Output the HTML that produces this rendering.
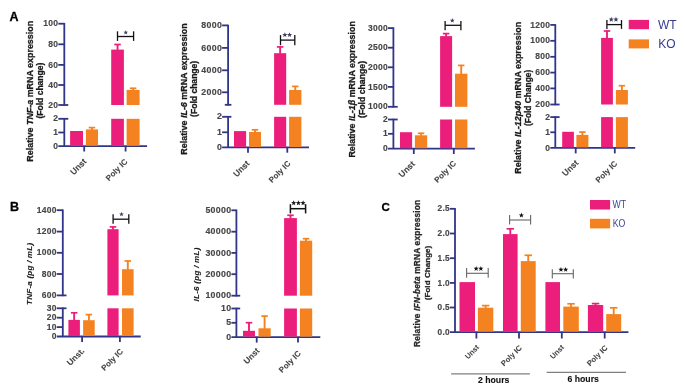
<!DOCTYPE html>
<html><head><meta charset="utf-8"><style>
html,body{margin:0;padding:0;background:#fff;}
svg{display:block;font-family:"Liberation Sans", sans-serif;will-change:transform;}
</style></head><body>
<svg width="685" height="391" viewBox="0 0 685 391">
<rect width="685" height="391" fill="#fff"/>
<text x="9.40" y="21.10" font-size="12.5" text-anchor="start" font-weight="bold" fill="#000" stroke="#000" stroke-width="0.3">A</text>
<text x="10.00" y="211.30" font-size="12.5" text-anchor="start" font-weight="bold" fill="#000" stroke="#000" stroke-width="0.3">B</text>
<text x="381.50" y="211.10" font-size="11.5" text-anchor="start" font-weight="bold" fill="#000" stroke="#000" stroke-width="0.3">C</text>
<line x1="64.30" y1="22.95" x2="64.30" y2="105.75" stroke="#303588" stroke-width="1.8"/>
<line x1="58.30" y1="23.70" x2="64.30" y2="23.70" stroke="#303588" stroke-width="1.8"/>
<text x="58.30" y="26.30" font-size="8.5" text-anchor="end" font-weight="bold" fill="#474747" stroke="#474747" stroke-width="0.15" letter-spacing="0.3">100</text>
<line x1="58.30" y1="44.30" x2="64.30" y2="44.30" stroke="#303588" stroke-width="1.8"/>
<text x="58.30" y="46.90" font-size="8.5" text-anchor="end" font-weight="bold" fill="#474747" stroke="#474747" stroke-width="0.15" letter-spacing="0.3">80</text>
<line x1="58.30" y1="64.90" x2="64.30" y2="64.90" stroke="#303588" stroke-width="1.8"/>
<text x="58.30" y="67.50" font-size="8.5" text-anchor="end" font-weight="bold" fill="#474747" stroke="#474747" stroke-width="0.15" letter-spacing="0.3">60</text>
<line x1="58.30" y1="85.00" x2="64.30" y2="85.00" stroke="#303588" stroke-width="1.8"/>
<text x="58.30" y="87.60" font-size="8.5" text-anchor="end" font-weight="bold" fill="#474747" stroke="#474747" stroke-width="0.15" letter-spacing="0.3">40</text>
<line x1="58.30" y1="105.00" x2="68.30" y2="105.00" stroke="#303588" stroke-width="1.8"/>
<text x="58.30" y="107.60" font-size="8.5" text-anchor="end" font-weight="bold" fill="#474747" stroke="#474747" stroke-width="0.15" letter-spacing="0.3">20</text>
<line x1="64.30" y1="118.05" x2="64.30" y2="146.20" stroke="#303588" stroke-width="1.8"/>
<line x1="58.30" y1="118.80" x2="68.30" y2="118.80" stroke="#303588" stroke-width="1.8"/>
<text x="58.30" y="121.40" font-size="8.5" text-anchor="end" font-weight="bold" fill="#474747" stroke="#474747" stroke-width="0.15" letter-spacing="0.3">2</text>
<line x1="58.30" y1="132.50" x2="64.30" y2="132.50" stroke="#303588" stroke-width="1.8"/>
<text x="58.30" y="135.10" font-size="8.5" text-anchor="end" font-weight="bold" fill="#474747" stroke="#474747" stroke-width="0.15" letter-spacing="0.3">1</text>
<line x1="58.30" y1="146.20" x2="147.10" y2="146.20" stroke="#303588" stroke-width="1.8"/>
<text x="58.30" y="148.80" font-size="8.5" text-anchor="end" font-weight="bold" fill="#474747" stroke="#474747" stroke-width="0.15" letter-spacing="0.3">0</text>
<line x1="84.20" y1="146.20" x2="84.20" y2="151.50" stroke="#303588" stroke-width="1.8"/>
<line x1="125.60" y1="146.20" x2="125.60" y2="151.50" stroke="#303588" stroke-width="1.8"/>
<rect x="70.10" y="131.00" width="12.90" height="14.70" fill="#EC1E7C"/>
<rect x="85.90" y="129.40" width="12.10" height="16.30" fill="#F48220"/>
<line x1="91.95" y1="129.90" x2="91.95" y2="127.10" stroke="#F48220" stroke-width="1.9"/>
<line x1="88.70" y1="127.60" x2="95.20" y2="127.60" stroke="#F48220" stroke-width="1.7"/>
<rect x="111.20" y="118.80" width="12.70" height="26.90" fill="#EC1E7C"/>
<rect x="111.20" y="49.60" width="12.70" height="55.40" fill="#EC1E7C"/>
<line x1="117.55" y1="50.10" x2="117.55" y2="44.00" stroke="#EC1E7C" stroke-width="1.9"/>
<line x1="114.30" y1="44.50" x2="120.80" y2="44.50" stroke="#EC1E7C" stroke-width="1.7"/>
<rect x="126.60" y="118.80" width="13.00" height="26.90" fill="#F48220"/>
<rect x="126.60" y="89.90" width="13.00" height="15.10" fill="#F48220"/>
<line x1="133.10" y1="90.40" x2="133.10" y2="87.80" stroke="#F48220" stroke-width="1.9"/>
<line x1="129.85" y1="88.30" x2="136.35" y2="88.30" stroke="#F48220" stroke-width="1.7"/>
<line x1="117.50" y1="31.30" x2="117.50" y2="40.90" stroke="#111" stroke-width="1.3"/>
<line x1="133.60" y1="31.30" x2="133.60" y2="40.90" stroke="#111" stroke-width="1.3"/>
<line x1="117.50" y1="36.50" x2="133.60" y2="36.50" stroke="#111" stroke-width="1.3"/>
<polygon points="125.75,30.00 126.37,31.65 128.13,31.73 126.75,32.82 127.22,34.52 125.75,33.55 124.28,34.52 124.75,32.82 123.37,31.73 125.13,31.65" fill="#3d3d63"/>
<text transform="translate(87.10,162.10) rotate(-45)" font-size="8.5" text-anchor="end" font-weight="bold" fill="#444444" stroke="#444444" stroke-width="0.1">Unst</text>
<text transform="translate(128.10,162.20) rotate(-45)" font-size="8.0" text-anchor="end" font-weight="bold" fill="#444444" stroke="#444444" stroke-width="0.1">Poly IC</text>
<text transform="translate(33.20,91.30) rotate(-90)" font-size="8.9" text-anchor="middle" font-weight="bold" fill="#1a1a1a" stroke="#1a1a1a" stroke-width="0.3" textLength="140.8" lengthAdjust="spacingAndGlyphs">Relative <tspan font-style="italic">TNF-a</tspan> mRNA expression</text>
<text transform="translate(42.60,90.60) rotate(-90)" font-size="8.6" text-anchor="middle" font-weight="bold" fill="#1a1a1a" stroke="#1a1a1a" stroke-width="0.3" textLength="56.0" lengthAdjust="spacingAndGlyphs">(Fold change)</text>
<line x1="228.10" y1="24.65" x2="228.10" y2="105.55" stroke="#303588" stroke-width="1.8"/>
<line x1="222.10" y1="25.40" x2="228.10" y2="25.40" stroke="#303588" stroke-width="1.8"/>
<text x="222.10" y="28.00" font-size="8.8" text-anchor="end" font-weight="bold" fill="#474747" stroke="#474747" stroke-width="0.15" letter-spacing="0.3">8000</text>
<line x1="222.10" y1="47.90" x2="228.10" y2="47.90" stroke="#303588" stroke-width="1.8"/>
<text x="222.10" y="50.50" font-size="8.8" text-anchor="end" font-weight="bold" fill="#474747" stroke="#474747" stroke-width="0.15" letter-spacing="0.3">6000</text>
<line x1="222.10" y1="70.30" x2="228.10" y2="70.30" stroke="#303588" stroke-width="1.8"/>
<text x="222.10" y="72.90" font-size="8.8" text-anchor="end" font-weight="bold" fill="#474747" stroke="#474747" stroke-width="0.15" letter-spacing="0.3">4000</text>
<line x1="222.10" y1="92.30" x2="228.10" y2="92.30" stroke="#303588" stroke-width="1.8"/>
<text x="222.10" y="94.90" font-size="8.8" text-anchor="end" font-weight="bold" fill="#474747" stroke="#474747" stroke-width="0.15" letter-spacing="0.3">2000</text>
<line x1="224.80" y1="104.80" x2="231.40" y2="104.80" stroke="#303588" stroke-width="1.8"/>
<line x1="228.10" y1="116.05" x2="228.10" y2="147.40" stroke="#303588" stroke-width="1.8"/>
<line x1="222.10" y1="116.80" x2="231.40" y2="116.80" stroke="#303588" stroke-width="1.8"/>
<text x="222.10" y="119.40" font-size="8.8" text-anchor="end" font-weight="bold" fill="#474747" stroke="#474747" stroke-width="0.15" letter-spacing="0.3">2</text>
<line x1="222.10" y1="132.30" x2="228.10" y2="132.30" stroke="#303588" stroke-width="1.8"/>
<text x="222.10" y="134.90" font-size="8.8" text-anchor="end" font-weight="bold" fill="#474747" stroke="#474747" stroke-width="0.15" letter-spacing="0.3">1</text>
<line x1="222.10" y1="147.40" x2="309.00" y2="147.40" stroke="#303588" stroke-width="1.8"/>
<text x="222.10" y="150.00" font-size="8.8" text-anchor="end" font-weight="bold" fill="#474747" stroke="#474747" stroke-width="0.15" letter-spacing="0.3">0</text>
<line x1="248.00" y1="147.40" x2="248.00" y2="152.70" stroke="#303588" stroke-width="1.8"/>
<line x1="287.30" y1="147.40" x2="287.30" y2="152.70" stroke="#303588" stroke-width="1.8"/>
<rect x="234.00" y="131.10" width="12.10" height="15.80" fill="#EC1E7C"/>
<rect x="249.00" y="132.00" width="12.00" height="14.90" fill="#F48220"/>
<line x1="255.00" y1="132.50" x2="255.00" y2="129.30" stroke="#F48220" stroke-width="1.9"/>
<line x1="251.75" y1="129.80" x2="258.25" y2="129.80" stroke="#F48220" stroke-width="1.7"/>
<rect x="274.10" y="116.80" width="12.10" height="30.10" fill="#EC1E7C"/>
<rect x="274.10" y="53.20" width="12.10" height="51.60" fill="#EC1E7C"/>
<line x1="280.15" y1="53.70" x2="280.15" y2="46.40" stroke="#EC1E7C" stroke-width="1.9"/>
<line x1="276.90" y1="46.90" x2="283.40" y2="46.90" stroke="#EC1E7C" stroke-width="1.7"/>
<rect x="289.10" y="116.80" width="12.30" height="30.10" fill="#F48220"/>
<rect x="289.10" y="90.00" width="12.30" height="14.80" fill="#F48220"/>
<line x1="295.25" y1="90.50" x2="295.25" y2="85.90" stroke="#F48220" stroke-width="1.9"/>
<line x1="292.00" y1="86.40" x2="298.50" y2="86.40" stroke="#F48220" stroke-width="1.7"/>
<line x1="280.50" y1="35.10" x2="280.50" y2="45.20" stroke="#111" stroke-width="1.3"/>
<line x1="294.80" y1="35.10" x2="294.80" y2="45.20" stroke="#111" stroke-width="1.3"/>
<line x1="280.50" y1="40.10" x2="294.80" y2="40.10" stroke="#111" stroke-width="1.3"/>
<polygon points="284.85,32.15 285.53,33.97 287.47,34.05 285.95,35.26 286.47,37.12 284.85,36.05 283.23,37.12 283.75,35.26 282.23,34.05 284.17,33.97" fill="#3d3d63"/>
<polygon points="289.55,32.15 290.23,33.97 292.17,34.05 290.65,35.26 291.17,37.12 289.55,36.05 287.93,37.12 288.45,35.26 286.93,34.05 288.87,33.97" fill="#3d3d63"/>
<text transform="translate(250.10,164.10) rotate(-45)" font-size="8.5" text-anchor="end" font-weight="bold" fill="#444444" stroke="#444444" stroke-width="0.1">Unst</text>
<text transform="translate(291.20,164.00) rotate(-45)" font-size="8.0" text-anchor="end" font-weight="bold" fill="#444444" stroke="#444444" stroke-width="0.1">Poly IC</text>
<text transform="translate(187.40,89.00) rotate(-90)" font-size="8.9" text-anchor="middle" font-weight="bold" fill="#1a1a1a" stroke="#1a1a1a" stroke-width="0.3" textLength="131.4" lengthAdjust="spacingAndGlyphs">Relative <tspan font-style="italic">IL-6</tspan> mRNA expression</text>
<text transform="translate(196.60,88.85) rotate(-90)" font-size="8.6" text-anchor="middle" font-weight="bold" fill="#1a1a1a" stroke="#1a1a1a" stroke-width="0.3" textLength="56.1" lengthAdjust="spacingAndGlyphs">(Fold change)</text>
<line x1="393.40" y1="27.35" x2="393.40" y2="107.55" stroke="#303588" stroke-width="1.8"/>
<line x1="388.00" y1="28.10" x2="393.40" y2="28.10" stroke="#303588" stroke-width="1.8"/>
<text x="388.00" y="30.70" font-size="8.5" text-anchor="end" font-weight="bold" fill="#474747" stroke="#474747" stroke-width="0.15" letter-spacing="0.3">3000</text>
<line x1="388.00" y1="47.70" x2="393.40" y2="47.70" stroke="#303588" stroke-width="1.8"/>
<text x="388.00" y="50.30" font-size="8.5" text-anchor="end" font-weight="bold" fill="#474747" stroke="#474747" stroke-width="0.15" letter-spacing="0.3">2500</text>
<line x1="388.00" y1="67.30" x2="393.40" y2="67.30" stroke="#303588" stroke-width="1.8"/>
<text x="388.00" y="69.90" font-size="8.5" text-anchor="end" font-weight="bold" fill="#474747" stroke="#474747" stroke-width="0.15" letter-spacing="0.3">2000</text>
<line x1="388.00" y1="86.90" x2="393.40" y2="86.90" stroke="#303588" stroke-width="1.8"/>
<text x="388.00" y="89.50" font-size="8.5" text-anchor="end" font-weight="bold" fill="#474747" stroke="#474747" stroke-width="0.15" letter-spacing="0.3">1500</text>
<line x1="388.00" y1="106.80" x2="397.70" y2="106.80" stroke="#303588" stroke-width="1.8"/>
<text x="388.00" y="109.40" font-size="8.5" text-anchor="end" font-weight="bold" fill="#474747" stroke="#474747" stroke-width="0.15" letter-spacing="0.3">1000</text>
<line x1="393.40" y1="118.75" x2="393.40" y2="148.70" stroke="#303588" stroke-width="1.8"/>
<line x1="388.00" y1="119.50" x2="397.70" y2="119.50" stroke="#303588" stroke-width="1.8"/>
<text x="388.00" y="122.10" font-size="8.5" text-anchor="end" font-weight="bold" fill="#474747" stroke="#474747" stroke-width="0.15" letter-spacing="0.3">2</text>
<line x1="388.00" y1="133.80" x2="393.40" y2="133.80" stroke="#303588" stroke-width="1.8"/>
<text x="388.00" y="136.40" font-size="8.5" text-anchor="end" font-weight="bold" fill="#474747" stroke="#474747" stroke-width="0.15" letter-spacing="0.3">1</text>
<line x1="388.00" y1="148.70" x2="474.90" y2="148.70" stroke="#303588" stroke-width="1.8"/>
<text x="388.00" y="151.30" font-size="8.5" text-anchor="end" font-weight="bold" fill="#474747" stroke="#474747" stroke-width="0.15" letter-spacing="0.3">0</text>
<line x1="413.80" y1="148.70" x2="413.80" y2="154.00" stroke="#303588" stroke-width="1.8"/>
<line x1="453.80" y1="148.70" x2="453.80" y2="154.00" stroke="#303588" stroke-width="1.8"/>
<rect x="400.00" y="132.20" width="12.10" height="16.00" fill="#EC1E7C"/>
<rect x="414.90" y="135.30" width="12.30" height="12.90" fill="#F48220"/>
<line x1="421.05" y1="135.80" x2="421.05" y2="132.80" stroke="#F48220" stroke-width="1.9"/>
<line x1="417.80" y1="133.30" x2="424.30" y2="133.30" stroke="#F48220" stroke-width="1.7"/>
<rect x="440.10" y="119.50" width="12.00" height="28.70" fill="#EC1E7C"/>
<rect x="440.10" y="36.10" width="12.00" height="70.70" fill="#EC1E7C"/>
<line x1="446.10" y1="36.60" x2="446.10" y2="33.10" stroke="#EC1E7C" stroke-width="1.9"/>
<line x1="442.85" y1="33.60" x2="449.35" y2="33.60" stroke="#EC1E7C" stroke-width="1.7"/>
<rect x="455.00" y="119.50" width="12.40" height="28.70" fill="#F48220"/>
<rect x="455.00" y="73.70" width="12.40" height="33.10" fill="#F48220"/>
<line x1="461.20" y1="74.20" x2="461.20" y2="64.90" stroke="#F48220" stroke-width="1.9"/>
<line x1="457.95" y1="65.40" x2="464.45" y2="65.40" stroke="#F48220" stroke-width="1.7"/>
<line x1="445.10" y1="21.00" x2="445.10" y2="30.30" stroke="#111" stroke-width="1.3"/>
<line x1="460.90" y1="21.00" x2="460.90" y2="30.30" stroke="#111" stroke-width="1.3"/>
<line x1="445.10" y1="25.30" x2="460.90" y2="25.30" stroke="#111" stroke-width="1.3"/>
<polygon points="452.30,18.10 452.92,19.75 454.68,19.83 453.30,20.92 453.77,22.62 452.30,21.65 450.83,22.62 451.30,20.92 449.92,19.83 451.68,19.75" fill="#3d3d63"/>
<text transform="translate(415.40,164.60) rotate(-45)" font-size="8.5" text-anchor="end" font-weight="bold" fill="#444444" stroke="#444444" stroke-width="0.1">Unst</text>
<text transform="translate(456.70,164.00) rotate(-45)" font-size="8.0" text-anchor="end" font-weight="bold" fill="#444444" stroke="#444444" stroke-width="0.1">Poly IC</text>
<text transform="translate(355.30,89.40) rotate(-90)" font-size="8.9" text-anchor="middle" font-weight="bold" fill="#1a1a1a" stroke="#1a1a1a" stroke-width="0.3" textLength="136.4" lengthAdjust="spacingAndGlyphs">Relative <tspan font-style="italic">IL-1β</tspan> mRNA expression</text>
<text transform="translate(365.00,89.45) rotate(-90)" font-size="8.6" text-anchor="middle" font-weight="bold" fill="#1a1a1a" stroke="#1a1a1a" stroke-width="0.3" textLength="57.1" lengthAdjust="spacingAndGlyphs">(Fold change)</text>
<line x1="555.30" y1="24.15" x2="555.30" y2="105.25" stroke="#303588" stroke-width="1.8"/>
<line x1="550.30" y1="24.90" x2="555.30" y2="24.90" stroke="#303588" stroke-width="1.8"/>
<text x="550.30" y="27.50" font-size="8.5" text-anchor="end" font-weight="bold" fill="#474747" stroke="#474747" stroke-width="0.15" letter-spacing="0.3">1200</text>
<line x1="550.30" y1="40.80" x2="555.30" y2="40.80" stroke="#303588" stroke-width="1.8"/>
<text x="550.30" y="43.40" font-size="8.5" text-anchor="end" font-weight="bold" fill="#474747" stroke="#474747" stroke-width="0.15" letter-spacing="0.3">1000</text>
<line x1="550.30" y1="56.80" x2="555.30" y2="56.80" stroke="#303588" stroke-width="1.8"/>
<text x="550.30" y="59.40" font-size="8.5" text-anchor="end" font-weight="bold" fill="#474747" stroke="#474747" stroke-width="0.15" letter-spacing="0.3">800</text>
<line x1="550.30" y1="72.60" x2="555.30" y2="72.60" stroke="#303588" stroke-width="1.8"/>
<text x="550.30" y="75.20" font-size="8.5" text-anchor="end" font-weight="bold" fill="#474747" stroke="#474747" stroke-width="0.15" letter-spacing="0.3">600</text>
<line x1="550.30" y1="88.40" x2="555.30" y2="88.40" stroke="#303588" stroke-width="1.8"/>
<text x="550.30" y="91.00" font-size="8.5" text-anchor="end" font-weight="bold" fill="#474747" stroke="#474747" stroke-width="0.15" letter-spacing="0.3">400</text>
<line x1="550.30" y1="104.50" x2="559.60" y2="104.50" stroke="#303588" stroke-width="1.8"/>
<text x="550.30" y="107.10" font-size="8.5" text-anchor="end" font-weight="bold" fill="#474747" stroke="#474747" stroke-width="0.15" letter-spacing="0.3">200</text>
<line x1="555.30" y1="116.35" x2="555.30" y2="147.90" stroke="#303588" stroke-width="1.8"/>
<line x1="550.30" y1="117.10" x2="559.60" y2="117.10" stroke="#303588" stroke-width="1.8"/>
<text x="550.30" y="119.70" font-size="8.5" text-anchor="end" font-weight="bold" fill="#474747" stroke="#474747" stroke-width="0.15" letter-spacing="0.3">2</text>
<line x1="550.30" y1="132.30" x2="555.30" y2="132.30" stroke="#303588" stroke-width="1.8"/>
<text x="550.30" y="134.90" font-size="8.5" text-anchor="end" font-weight="bold" fill="#474747" stroke="#474747" stroke-width="0.15" letter-spacing="0.3">1</text>
<line x1="550.30" y1="147.90" x2="635.20" y2="147.90" stroke="#303588" stroke-width="1.8"/>
<text x="550.30" y="150.50" font-size="8.5" text-anchor="end" font-weight="bold" fill="#474747" stroke="#474747" stroke-width="0.15" letter-spacing="0.3">0</text>
<line x1="575.70" y1="147.90" x2="575.70" y2="153.40" stroke="#303588" stroke-width="1.8"/>
<line x1="614.80" y1="147.90" x2="614.80" y2="153.40" stroke="#303588" stroke-width="1.8"/>
<rect x="562.20" y="131.80" width="11.70" height="15.60" fill="#EC1E7C"/>
<rect x="576.40" y="134.90" width="12.00" height="12.50" fill="#F48220"/>
<line x1="582.40" y1="135.40" x2="582.40" y2="131.60" stroke="#F48220" stroke-width="1.9"/>
<line x1="579.15" y1="132.10" x2="585.65" y2="132.10" stroke="#F48220" stroke-width="1.7"/>
<rect x="601.10" y="117.10" width="11.80" height="30.30" fill="#EC1E7C"/>
<rect x="601.10" y="37.90" width="11.80" height="66.60" fill="#EC1E7C"/>
<line x1="607.00" y1="38.40" x2="607.00" y2="30.50" stroke="#EC1E7C" stroke-width="1.9"/>
<line x1="603.75" y1="31.00" x2="610.25" y2="31.00" stroke="#EC1E7C" stroke-width="1.7"/>
<rect x="615.90" y="117.10" width="12.00" height="30.30" fill="#F48220"/>
<rect x="615.90" y="90.00" width="12.00" height="14.50" fill="#F48220"/>
<line x1="621.90" y1="90.50" x2="621.90" y2="85.20" stroke="#F48220" stroke-width="1.9"/>
<line x1="618.65" y1="85.70" x2="625.15" y2="85.70" stroke="#F48220" stroke-width="1.7"/>
<line x1="606.90" y1="20.00" x2="606.90" y2="28.90" stroke="#111" stroke-width="1.3"/>
<line x1="621.50" y1="20.00" x2="621.50" y2="28.90" stroke="#111" stroke-width="1.3"/>
<line x1="606.90" y1="24.60" x2="621.50" y2="24.60" stroke="#111" stroke-width="1.3"/>
<polygon points="611.25,16.75 611.93,18.57 613.87,18.65 612.35,19.86 612.87,21.72 611.25,20.66 609.63,21.72 610.15,19.86 608.63,18.65 610.57,18.57" fill="#3d3d63"/>
<polygon points="615.95,16.75 616.63,18.57 618.57,18.65 617.05,19.86 617.57,21.72 615.95,20.66 614.33,21.72 614.85,19.86 613.33,18.65 615.27,18.57" fill="#3d3d63"/>
<text transform="translate(578.90,163.40) rotate(-45)" font-size="8.5" text-anchor="end" font-weight="bold" fill="#444444" stroke="#444444" stroke-width="0.1">Unst</text>
<text transform="translate(617.90,164.10) rotate(-45)" font-size="8.0" text-anchor="end" font-weight="bold" fill="#444444" stroke="#444444" stroke-width="0.1">Poly IC</text>
<text transform="translate(520.60,97.85) rotate(-90)" font-size="8.9" text-anchor="middle" font-weight="bold" fill="#1a1a1a" stroke="#1a1a1a" stroke-width="0.3" textLength="151.9" lengthAdjust="spacingAndGlyphs">Relative <tspan font-style="italic">IL-12p40</tspan> mRNA expression</text>
<text transform="translate(530.60,97.90) rotate(-90)" font-size="8.6" text-anchor="middle" font-weight="bold" fill="#1a1a1a" stroke="#1a1a1a" stroke-width="0.3" textLength="56.2" lengthAdjust="spacingAndGlyphs">(Fold Change)</text>
<rect x="628.70" y="19.90" width="20.30" height="9.30" fill="#EC1E7C"/>
<rect x="628.70" y="39.40" width="20.30" height="9.00" fill="#F48220"/>
<text x="658.00" y="28.90" font-size="12" text-anchor="start" font-weight="normal" fill="#363b8c">WT</text>
<text x="658.30" y="48.10" font-size="12" text-anchor="start" font-weight="normal" fill="#363b8c">KO</text>
<line x1="62.80" y1="209.45" x2="62.80" y2="296.15" stroke="#303588" stroke-width="1.8"/>
<line x1="56.80" y1="210.20" x2="62.80" y2="210.20" stroke="#303588" stroke-width="1.8"/>
<text x="56.80" y="212.80" font-size="8.5" text-anchor="end" font-weight="bold" fill="#474747" stroke="#474747" stroke-width="0.15" letter-spacing="0.3">1400</text>
<line x1="56.80" y1="231.60" x2="62.80" y2="231.60" stroke="#303588" stroke-width="1.8"/>
<text x="56.80" y="234.20" font-size="8.5" text-anchor="end" font-weight="bold" fill="#474747" stroke="#474747" stroke-width="0.15" letter-spacing="0.3">1200</text>
<line x1="56.80" y1="252.80" x2="62.80" y2="252.80" stroke="#303588" stroke-width="1.8"/>
<text x="56.80" y="255.40" font-size="8.5" text-anchor="end" font-weight="bold" fill="#474747" stroke="#474747" stroke-width="0.15" letter-spacing="0.3">1000</text>
<line x1="56.80" y1="274.00" x2="62.80" y2="274.00" stroke="#303588" stroke-width="1.8"/>
<text x="56.80" y="276.60" font-size="8.5" text-anchor="end" font-weight="bold" fill="#474747" stroke="#474747" stroke-width="0.15" letter-spacing="0.3">800</text>
<line x1="56.80" y1="295.40" x2="66.50" y2="295.40" stroke="#303588" stroke-width="1.8"/>
<text x="56.80" y="298.00" font-size="8.5" text-anchor="end" font-weight="bold" fill="#474747" stroke="#474747" stroke-width="0.15" letter-spacing="0.3">600</text>
<line x1="62.80" y1="307.55" x2="62.80" y2="336.50" stroke="#303588" stroke-width="1.8"/>
<line x1="56.80" y1="308.30" x2="66.50" y2="308.30" stroke="#303588" stroke-width="1.8"/>
<text x="56.80" y="310.90" font-size="8.5" text-anchor="end" font-weight="bold" fill="#474747" stroke="#474747" stroke-width="0.15" letter-spacing="0.3">30</text>
<line x1="56.80" y1="317.70" x2="62.80" y2="317.70" stroke="#303588" stroke-width="1.8"/>
<text x="56.80" y="320.30" font-size="8.5" text-anchor="end" font-weight="bold" fill="#474747" stroke="#474747" stroke-width="0.15" letter-spacing="0.3">20</text>
<line x1="56.80" y1="327.10" x2="62.80" y2="327.10" stroke="#303588" stroke-width="1.8"/>
<text x="56.80" y="329.70" font-size="8.5" text-anchor="end" font-weight="bold" fill="#474747" stroke="#474747" stroke-width="0.15" letter-spacing="0.3">10</text>
<line x1="56.80" y1="336.50" x2="140.70" y2="336.50" stroke="#303588" stroke-width="1.8"/>
<text x="56.80" y="339.10" font-size="8.5" text-anchor="end" font-weight="bold" fill="#474747" stroke="#474747" stroke-width="0.15" letter-spacing="0.3">0</text>
<line x1="82.10" y1="336.50" x2="82.10" y2="342.10" stroke="#303588" stroke-width="1.8"/>
<line x1="119.90" y1="336.50" x2="119.90" y2="342.10" stroke="#303588" stroke-width="1.8"/>
<rect x="68.40" y="319.90" width="11.50" height="16.10" fill="#EC1E7C"/>
<line x1="74.15" y1="320.40" x2="74.15" y2="312.30" stroke="#EC1E7C" stroke-width="1.9"/>
<line x1="70.90" y1="312.80" x2="77.40" y2="312.80" stroke="#EC1E7C" stroke-width="1.7"/>
<rect x="83.10" y="320.20" width="11.60" height="15.80" fill="#F48220"/>
<line x1="88.90" y1="320.70" x2="88.90" y2="314.10" stroke="#F48220" stroke-width="1.9"/>
<line x1="85.65" y1="314.60" x2="92.15" y2="314.60" stroke="#F48220" stroke-width="1.7"/>
<rect x="107.40" y="308.30" width="11.20" height="27.70" fill="#EC1E7C"/>
<rect x="107.40" y="229.20" width="11.20" height="66.20" fill="#EC1E7C"/>
<line x1="113.00" y1="229.70" x2="113.00" y2="226.40" stroke="#EC1E7C" stroke-width="1.9"/>
<line x1="109.75" y1="226.90" x2="116.25" y2="226.90" stroke="#EC1E7C" stroke-width="1.7"/>
<rect x="122.00" y="308.30" width="11.60" height="27.70" fill="#F48220"/>
<rect x="122.00" y="269.20" width="11.60" height="26.20" fill="#F48220"/>
<line x1="127.80" y1="269.70" x2="127.80" y2="260.50" stroke="#F48220" stroke-width="1.9"/>
<line x1="124.55" y1="261.00" x2="131.05" y2="261.00" stroke="#F48220" stroke-width="1.7"/>
<line x1="113.10" y1="214.30" x2="113.10" y2="223.80" stroke="#111" stroke-width="1.3"/>
<line x1="128.80" y1="214.30" x2="128.80" y2="223.80" stroke="#111" stroke-width="1.3"/>
<line x1="113.10" y1="219.20" x2="128.80" y2="219.20" stroke="#111" stroke-width="1.3"/>
<polygon points="121.50,211.80 122.12,213.45 123.88,213.53 122.50,214.62 122.97,216.32 121.50,215.35 120.03,216.32 120.50,214.62 119.12,213.53 120.88,213.45" fill="#3d3d63"/>
<text transform="translate(85.00,351.40) rotate(-45)" font-size="8.3" text-anchor="end" font-weight="bold" fill="#444444" stroke="#444444" stroke-width="0.1">Unst.</text>
<text transform="translate(123.60,352.00) rotate(-45)" font-size="8.0" text-anchor="end" font-weight="bold" fill="#444444" stroke="#444444" stroke-width="0.1">Poly IC</text>
<text transform="translate(32.00,273.90) rotate(-90)" font-size="8.1" text-anchor="middle" font-weight="bold" fill="#222" stroke="#222" stroke-width="0.12" textLength="62.0" lengthAdjust="spacing"><tspan font-style="italic">TNF-a (pg / mL)</tspan></text>
<line x1="236.40" y1="209.55" x2="236.40" y2="296.45" stroke="#303588" stroke-width="1.8"/>
<line x1="231.40" y1="210.30" x2="236.40" y2="210.30" stroke="#303588" stroke-width="1.8"/>
<text x="231.40" y="212.90" font-size="8.8" text-anchor="end" font-weight="bold" fill="#474747" stroke="#474747" stroke-width="0.15" letter-spacing="0.3">50000</text>
<line x1="231.40" y1="231.70" x2="236.40" y2="231.70" stroke="#303588" stroke-width="1.8"/>
<text x="231.40" y="234.30" font-size="8.8" text-anchor="end" font-weight="bold" fill="#474747" stroke="#474747" stroke-width="0.15" letter-spacing="0.3">40000</text>
<line x1="231.40" y1="252.90" x2="236.40" y2="252.90" stroke="#303588" stroke-width="1.8"/>
<text x="231.40" y="255.50" font-size="8.8" text-anchor="end" font-weight="bold" fill="#474747" stroke="#474747" stroke-width="0.15" letter-spacing="0.3">30000</text>
<line x1="231.40" y1="274.20" x2="236.40" y2="274.20" stroke="#303588" stroke-width="1.8"/>
<text x="231.40" y="276.80" font-size="8.8" text-anchor="end" font-weight="bold" fill="#474747" stroke="#474747" stroke-width="0.15" letter-spacing="0.3">20000</text>
<line x1="231.40" y1="295.70" x2="240.20" y2="295.70" stroke="#303588" stroke-width="1.8"/>
<text x="231.40" y="298.30" font-size="8.8" text-anchor="end" font-weight="bold" fill="#474747" stroke="#474747" stroke-width="0.15" letter-spacing="0.3">10000</text>
<line x1="236.40" y1="307.75" x2="236.40" y2="337.10" stroke="#303588" stroke-width="1.8"/>
<line x1="231.40" y1="308.50" x2="240.20" y2="308.50" stroke="#303588" stroke-width="1.8"/>
<text x="231.40" y="311.10" font-size="8.8" text-anchor="end" font-weight="bold" fill="#474747" stroke="#474747" stroke-width="0.15" letter-spacing="0.3">10</text>
<line x1="231.40" y1="322.80" x2="236.40" y2="322.80" stroke="#303588" stroke-width="1.8"/>
<text x="231.40" y="325.40" font-size="8.8" text-anchor="end" font-weight="bold" fill="#474747" stroke="#474747" stroke-width="0.15" letter-spacing="0.3">5</text>
<line x1="231.40" y1="337.10" x2="320.30" y2="337.10" stroke="#303588" stroke-width="1.8"/>
<text x="231.40" y="339.70" font-size="8.8" text-anchor="end" font-weight="bold" fill="#474747" stroke="#474747" stroke-width="0.15" letter-spacing="0.3">0</text>
<line x1="256.70" y1="337.10" x2="256.70" y2="342.60" stroke="#303588" stroke-width="1.8"/>
<line x1="298.00" y1="337.10" x2="298.00" y2="342.60" stroke="#303588" stroke-width="1.8"/>
<rect x="243.00" y="330.80" width="12.00" height="5.80" fill="#EC1E7C"/>
<line x1="249.00" y1="331.30" x2="249.00" y2="322.20" stroke="#EC1E7C" stroke-width="1.9"/>
<line x1="245.75" y1="322.70" x2="252.25" y2="322.70" stroke="#EC1E7C" stroke-width="1.7"/>
<rect x="258.50" y="328.30" width="12.20" height="8.30" fill="#F48220"/>
<line x1="264.60" y1="328.80" x2="264.60" y2="315.60" stroke="#F48220" stroke-width="1.9"/>
<line x1="261.35" y1="316.10" x2="267.85" y2="316.10" stroke="#F48220" stroke-width="1.7"/>
<rect x="284.10" y="308.50" width="12.80" height="28.10" fill="#EC1E7C"/>
<rect x="284.10" y="218.10" width="12.80" height="77.60" fill="#EC1E7C"/>
<line x1="290.50" y1="218.60" x2="290.50" y2="214.80" stroke="#EC1E7C" stroke-width="1.9"/>
<line x1="287.25" y1="215.30" x2="293.75" y2="215.30" stroke="#EC1E7C" stroke-width="1.7"/>
<rect x="299.90" y="308.50" width="12.30" height="28.10" fill="#F48220"/>
<rect x="299.90" y="240.70" width="12.30" height="55.00" fill="#F48220"/>
<line x1="306.05" y1="241.20" x2="306.05" y2="238.20" stroke="#F48220" stroke-width="1.9"/>
<line x1="302.80" y1="238.70" x2="309.30" y2="238.70" stroke="#F48220" stroke-width="1.7"/>
<line x1="290.40" y1="204.20" x2="290.40" y2="213.40" stroke="#111" stroke-width="1.5"/>
<line x1="305.60" y1="204.20" x2="305.60" y2="213.40" stroke="#111" stroke-width="1.5"/>
<line x1="290.40" y1="208.70" x2="305.60" y2="208.70" stroke="#111" stroke-width="1.5"/>
<polygon points="293.70,200.25 294.38,202.07 296.32,202.15 294.80,203.36 295.32,205.22 293.70,204.16 292.08,205.22 292.60,203.36 291.08,202.15 293.02,202.07" fill="#1a1a1a"/>
<polygon points="298.40,200.25 299.08,202.07 301.02,202.15 299.50,203.36 300.02,205.22 298.40,204.16 296.78,205.22 297.30,203.36 295.78,202.15 297.72,202.07" fill="#1a1a1a"/>
<polygon points="303.10,200.25 303.78,202.07 305.72,202.15 304.20,203.36 304.72,205.22 303.10,204.16 301.48,205.22 302.00,203.36 300.48,202.15 302.42,202.07" fill="#1a1a1a"/>
<text transform="translate(260.00,351.40) rotate(-45)" font-size="8.3" text-anchor="end" font-weight="bold" fill="#444444" stroke="#444444" stroke-width="0.1">Unst</text>
<text transform="translate(301.30,354.00) rotate(-45)" font-size="8.0" text-anchor="end" font-weight="bold" fill="#444444" stroke="#444444" stroke-width="0.1">Poly IC</text>
<text transform="translate(199.20,274.55) rotate(-90)" font-size="8.1" text-anchor="middle" font-weight="bold" fill="#222" stroke="#222" stroke-width="0.12" textLength="53.9" lengthAdjust="spacing"><tspan font-style="italic">IL-6 (pg / mL)</tspan></text>
<line x1="455.00" y1="208.05" x2="455.00" y2="332.10" stroke="#303588" stroke-width="1.8"/>
<line x1="450.00" y1="208.80" x2="455.00" y2="208.80" stroke="#303588" stroke-width="1.8"/>
<text x="450.00" y="211.40" font-size="8.3" text-anchor="end" font-weight="bold" fill="#474747" stroke="#474747" stroke-width="0.15" letter-spacing="0.3">2.5</text>
<line x1="450.00" y1="233.50" x2="455.00" y2="233.50" stroke="#303588" stroke-width="1.8"/>
<text x="450.00" y="236.10" font-size="8.3" text-anchor="end" font-weight="bold" fill="#474747" stroke="#474747" stroke-width="0.15" letter-spacing="0.3">2.0</text>
<line x1="450.00" y1="258.20" x2="455.00" y2="258.20" stroke="#303588" stroke-width="1.8"/>
<text x="450.00" y="260.80" font-size="8.3" text-anchor="end" font-weight="bold" fill="#474747" stroke="#474747" stroke-width="0.15" letter-spacing="0.3">1.5</text>
<line x1="450.00" y1="282.90" x2="455.00" y2="282.90" stroke="#303588" stroke-width="1.8"/>
<text x="450.00" y="285.50" font-size="8.3" text-anchor="end" font-weight="bold" fill="#474747" stroke="#474747" stroke-width="0.15" letter-spacing="0.3">1.0</text>
<line x1="450.00" y1="307.50" x2="455.00" y2="307.50" stroke="#303588" stroke-width="1.8"/>
<text x="450.00" y="310.10" font-size="8.3" text-anchor="end" font-weight="bold" fill="#474747" stroke="#474747" stroke-width="0.15" letter-spacing="0.3">0.5</text>
<line x1="450.00" y1="332.10" x2="628.40" y2="332.10" stroke="#303588" stroke-width="1.8"/>
<text x="450.00" y="334.70" font-size="8.3" text-anchor="end" font-weight="bold" fill="#474747" stroke="#474747" stroke-width="0.15" letter-spacing="0.3">0.0</text>
<line x1="476.40" y1="332.10" x2="476.40" y2="338.50" stroke="#303588" stroke-width="1.8"/>
<line x1="519.00" y1="332.10" x2="519.00" y2="338.50" stroke="#303588" stroke-width="1.8"/>
<line x1="561.80" y1="332.10" x2="561.80" y2="338.50" stroke="#303588" stroke-width="1.8"/>
<line x1="604.70" y1="332.10" x2="604.70" y2="338.50" stroke="#303588" stroke-width="1.8"/>
<rect x="459.50" y="282.10" width="15.50" height="49.50" fill="#EC1E7C"/>
<rect x="477.90" y="307.70" width="15.40" height="23.90" fill="#F48220"/>
<line x1="485.60" y1="308.20" x2="485.60" y2="305.10" stroke="#F48220" stroke-width="1.9"/>
<line x1="481.85" y1="305.60" x2="489.35" y2="305.60" stroke="#F48220" stroke-width="1.7"/>
<rect x="503.00" y="234.10" width="14.60" height="97.50" fill="#EC1E7C"/>
<line x1="510.30" y1="234.60" x2="510.30" y2="228.30" stroke="#EC1E7C" stroke-width="1.9"/>
<line x1="506.55" y1="228.80" x2="514.05" y2="228.80" stroke="#EC1E7C" stroke-width="1.7"/>
<rect x="520.80" y="261.10" width="14.90" height="70.50" fill="#F48220"/>
<line x1="528.25" y1="261.60" x2="528.25" y2="254.80" stroke="#F48220" stroke-width="1.9"/>
<line x1="524.50" y1="255.30" x2="532.00" y2="255.30" stroke="#F48220" stroke-width="1.7"/>
<rect x="545.40" y="282.10" width="14.60" height="49.50" fill="#EC1E7C"/>
<rect x="563.30" y="306.60" width="15.50" height="25.00" fill="#F48220"/>
<line x1="571.05" y1="307.10" x2="571.05" y2="303.30" stroke="#F48220" stroke-width="1.9"/>
<line x1="567.30" y1="303.80" x2="574.80" y2="303.80" stroke="#F48220" stroke-width="1.7"/>
<rect x="587.90" y="305.00" width="15.30" height="26.60" fill="#EC1E7C"/>
<line x1="595.55" y1="305.50" x2="595.55" y2="303.10" stroke="#EC1E7C" stroke-width="1.9"/>
<line x1="591.80" y1="303.60" x2="599.30" y2="303.60" stroke="#EC1E7C" stroke-width="1.7"/>
<rect x="606.20" y="314.10" width="15.00" height="17.50" fill="#F48220"/>
<line x1="613.70" y1="314.60" x2="613.70" y2="307.30" stroke="#F48220" stroke-width="1.9"/>
<line x1="609.95" y1="307.80" x2="617.45" y2="307.80" stroke="#F48220" stroke-width="1.7"/>
<line x1="466.60" y1="268.00" x2="466.60" y2="277.70" stroke="#666666" stroke-width="1.1"/>
<line x1="488.20" y1="268.00" x2="488.20" y2="277.70" stroke="#666666" stroke-width="1.1"/>
<line x1="466.60" y1="273.30" x2="488.20" y2="273.30" stroke="#666666" stroke-width="1.1"/>
<polygon points="476.15,266.00 476.82,267.78 478.72,267.87 477.23,269.05 477.74,270.88 476.15,269.83 474.56,270.88 475.07,269.05 473.58,267.87 475.48,267.78" fill="#111"/>
<polygon points="480.85,266.00 481.52,267.78 483.42,267.87 481.93,269.05 482.44,270.88 480.85,269.83 479.26,270.88 479.77,269.05 478.28,267.87 480.18,267.78" fill="#111"/>
<line x1="509.60" y1="215.00" x2="509.60" y2="224.60" stroke="#666666" stroke-width="1.1"/>
<line x1="530.60" y1="215.00" x2="530.60" y2="224.60" stroke="#666666" stroke-width="1.1"/>
<line x1="509.60" y1="220.00" x2="530.60" y2="220.00" stroke="#666666" stroke-width="1.1"/>
<polygon points="521.40,212.60 522.07,214.38 523.97,214.47 522.48,215.65 522.99,217.48 521.40,216.43 519.81,217.48 520.32,215.65 518.83,214.47 520.73,214.38" fill="#111"/>
<line x1="552.30" y1="269.20" x2="552.30" y2="278.50" stroke="#666666" stroke-width="1.1"/>
<line x1="573.30" y1="269.20" x2="573.30" y2="278.50" stroke="#666666" stroke-width="1.1"/>
<line x1="552.30" y1="273.70" x2="573.30" y2="273.70" stroke="#666666" stroke-width="1.1"/>
<polygon points="560.95,266.90 561.62,268.68 563.52,268.77 562.03,269.95 562.54,271.78 560.95,270.73 559.36,271.78 559.87,269.95 558.38,268.77 560.28,268.68" fill="#111"/>
<polygon points="565.65,266.90 566.32,268.68 568.22,268.77 566.73,269.95 567.24,271.78 565.65,270.73 564.06,271.78 564.57,269.95 563.08,268.77 564.98,268.68" fill="#111"/>
<text transform="translate(479.60,347.80) rotate(-45)" font-size="7.4" text-anchor="end" font-weight="bold" fill="#444444" stroke="#444444" stroke-width="0.05">Unst</text>
<text transform="translate(522.30,348.30) rotate(-45)" font-size="7.6" text-anchor="end" font-weight="bold" fill="#444444" stroke="#444444" stroke-width="0.05">Poly IC</text>
<text transform="translate(564.60,347.80) rotate(-45)" font-size="7.4" text-anchor="end" font-weight="bold" fill="#444444" stroke="#444444" stroke-width="0.05">Unst</text>
<text transform="translate(608.10,348.30) rotate(-45)" font-size="7.6" text-anchor="end" font-weight="bold" fill="#444444" stroke="#444444" stroke-width="0.05">Poly IC</text>
<line x1="451.10" y1="373.80" x2="529.90" y2="373.80" stroke="#808080" stroke-width="1.2"/>
<line x1="546.60" y1="372.40" x2="626.00" y2="372.40" stroke="#808080" stroke-width="1.2"/>
<text x="493.70" y="383.00" font-size="8.7" text-anchor="middle" font-weight="bold" fill="#111" stroke="#111" stroke-width="0.1">2 hours</text>
<text x="583.20" y="381.80" font-size="8.7" text-anchor="middle" font-weight="bold" fill="#111" stroke="#111" stroke-width="0.1">6 hours</text>
<rect x="590.00" y="200.00" width="20.10" height="9.50" fill="#EC1E7C"/>
<rect x="590.00" y="218.80" width="20.10" height="9.60" fill="#F48220"/>
<text x="612.40" y="207.90" font-size="10.6" text-anchor="start" font-weight="normal" fill="#3b4590" textLength="13.6" lengthAdjust="spacingAndGlyphs">WT</text>
<text x="612.80" y="226.90" font-size="10.6" text-anchor="start" font-weight="normal" fill="#3b4590" textLength="12.6" lengthAdjust="spacingAndGlyphs">KO</text>
<text transform="translate(420.10,273.35) rotate(-90)" font-size="8.3" text-anchor="middle" font-weight="bold" fill="#2a2a2a" stroke="#2a2a2a" stroke-width="0.3" textLength="147.1" lengthAdjust="spacing">Relative <tspan font-style="italic">IFN-beta</tspan> mRNA expression</text>
<text transform="translate(430.00,273.00) rotate(-90)" font-size="8.0" text-anchor="middle" font-weight="bold" fill="#2a2a2a" stroke="#2a2a2a" stroke-width="0.3" textLength="54.6" lengthAdjust="spacing">(Fold Change)</text>
</svg></body></html>
